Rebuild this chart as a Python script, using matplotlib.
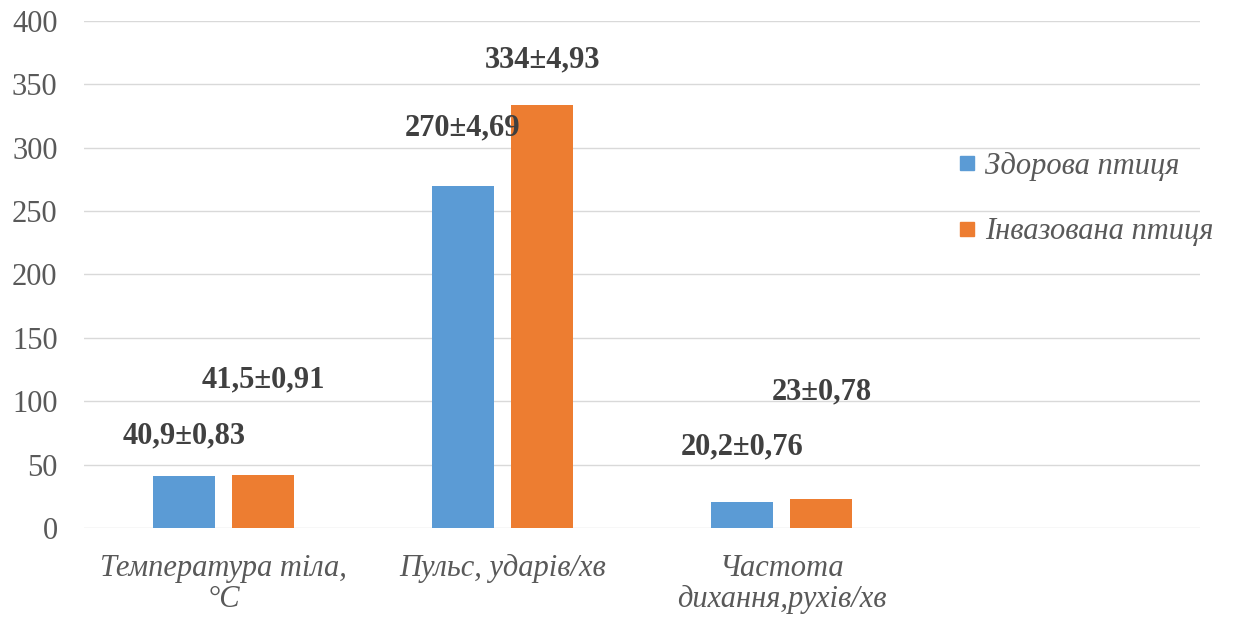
import numpy as np
import matplotlib
matplotlib.use('Agg')
import matplotlib.pyplot as plt
from matplotlib.lines import Line2D

plt.rcParams['font.family'] = ['Liberation Serif', 'DejaVu Serif']

# Indicators of healthy vs. invaded birds
categories = ['Температура тіла,\n°C', 'Пульс, ударів/хв', 'Частота\nдихання,рухів/хв', '']
healthy = [40.9, 270, 20.2]
invaded = [41.5, 334, 23]
healthy_err = ['0,83', '4,69', '0,76']
invaded_err = ['0,91', '4,93', '0,78']
series_names = ['Здорова птиця', 'Інвазована птиця']

# heights where the value labels sit
healthy_label_y = [72.6, 315.6, 63.9]
invaded_label_y = [116.8, 369.0, 107.3]

blue = '#5B9BD5'
orange = '#ED7D31'
text_grey = '#595959'
label_grey = '#404040'

fig = plt.figure(figsize=(12.35, 6.21), dpi=100)
ax = fig.add_axes([0.068, 0.150, 0.904, 0.816])

x = np.arange(len(healthy))
w = 0.222
off = 0.142
ax.bar(x - off, healthy, w, color=blue, zorder=3)
ax.bar(x + off, invaded, w, color=orange, zorder=3)


def fmt(v):
    return f'{v:g}'.replace('.', ',')


for i in range(len(healthy)):
    ax.text(x[i] - off, healthy_label_y[i], f'{fmt(healthy[i])}±{healthy_err[i]}',
            ha='center', va='center', fontsize=22, fontweight='bold', color=label_grey)
    ax.text(x[i] + off, invaded_label_y[i], f'{fmt(invaded[i])}±{invaded_err[i]}',
            ha='center', va='center', fontsize=22, fontweight='bold', color=label_grey)

ax.set_xlim(-0.5, 3.5)
ax.set_ylim(0, 400)
ax.set_yticks(np.arange(0, 401, 50))
ax.set_xticks(np.arange(len(categories)))
ax.set_xticklabels(categories, fontstyle='italic', linespacing=1.1)
ax.tick_params(axis='y', length=0, pad=19, labelsize=22, labelcolor=text_grey)
ax.tick_params(axis='x', length=0, pad=19, labelsize=22, labelcolor=text_grey)
ax.grid(axis='y', color='#d9d9d9', linewidth=1.0, zorder=0)
for s in ax.spines.values():
    s.set_visible(False)

handles = [Line2D([], [], marker='s', linestyle='none', markersize=10.5, color=c)
           for c in (blue, orange)]
leg = fig.legend(handles, series_names, loc='upper left', bbox_to_anchor=(0.752, 0.80),
                 frameon=False, handletextpad=0.25, handlelength=0.7, labelspacing=1.2,
                 prop={'size': 22, 'style': 'italic'})
for t in leg.get_texts():
    t.set_color(text_grey)

fig.savefig('out.png', dpi=100)
